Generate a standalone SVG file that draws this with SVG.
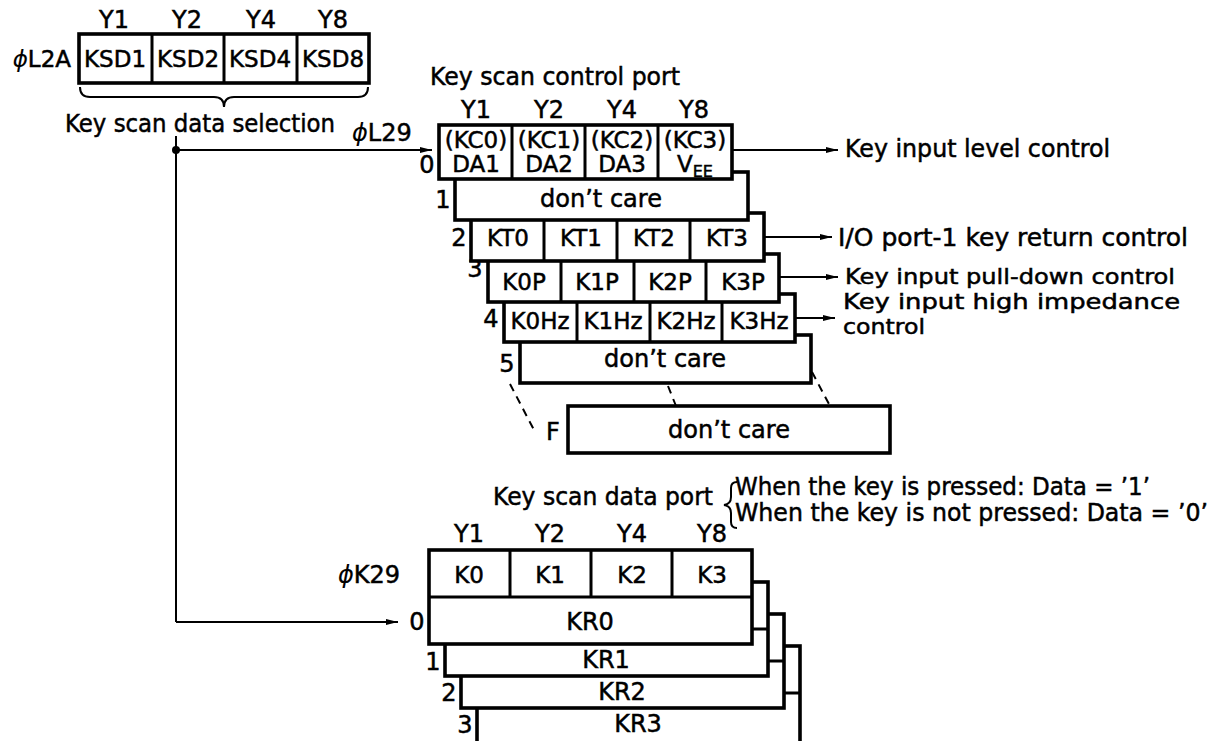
<svg xmlns="http://www.w3.org/2000/svg" width="1216" height="741" viewBox="0 0 1216 741">
<style>
text{font-family:"DejaVu Sans","Liberation Sans",Arial,sans-serif;font-size:23px;fill:#000;stroke:#000;stroke-width:0.5px}
.lb{font-size:24px}
.sm{font-size:21px}
.c{text-anchor:middle}
.e{text-anchor:end}
.phi{font-style:italic;stroke-width:0.1px}
.box{fill:#fff;stroke:#000;stroke-width:3.6}
.div{fill:none;stroke:#000;stroke-width:3}
.ln{fill:none;stroke:#000;stroke-width:2}
.dash{fill:none;stroke:#000;stroke-width:2;stroke-dasharray:8 6}
.sub{font-size:16px}
</style>
<defs>
<marker id="ah" viewBox="0 0 12 8" refX="12" refY="4" markerWidth="12" markerHeight="8" markerUnits="userSpaceOnUse" orient="auto">
<path d="M0,1 L12,4 L0,7 Z" fill="#000"/>
</marker>
</defs>

<g id="ksd-register">
<text class="c lb" x="114" y="28">Y1</text>
<text class="c lb" x="187" y="28">Y2</text>
<text class="c lb" x="261" y="28">Y4</text>
<text class="c lb" x="333" y="28">Y8</text>
<text class="e" x="71" y="67"><tspan class="phi">ϕ</tspan>L2A</text>
<rect class="box" x="79" y="34" width="290" height="49"/>
<path class="div" d="M152,34V83M224,34V83M297,34V83"/>
<text class="c" x="115" y="67">KSD1</text>
<text class="c" x="188" y="67">KSD2</text>
<text class="c" x="260" y="67">KSD4</text>
<text class="c" x="333" y="67">KSD8</text>
<path class="ln" d="M80,87 q0,10 10,10 H214 q10,0 10,10 q0,-10 10,-10 H358 q10,0 10,-10"/>
<text class="lb" x="65" y="132" textLength="270" lengthAdjust="spacingAndGlyphs">Key scan data selection</text>
</g>

<g id="connectors">
<text class="lb" x="352" y="141"><tspan class="phi">ϕ</tspan>L29</text>
<text class="lb" x="338" y="583"><tspan class="phi">ϕ</tspan>K29</text>
<path class="ln" d="M176,136 V622"/>
<circle cx="176" cy="150" r="4" fill="#000"/>
<path class="ln" d="M176,150 H432" marker-end="url(#ah)"/>
<path class="ln" d="M176,622 H398" marker-end="url(#ah)"/>
<path class="ln" d="M732,150 H838" marker-end="url(#ah)"/>
<path class="ln" d="M764,237 H832" marker-end="url(#ah)"/>
<path class="ln" d="M779,277 H838" marker-end="url(#ah)"/>
<path class="ln" d="M795,318 H835" marker-end="url(#ah)"/>
<path class="dash" d="M510,384 L534,430"/>
<path class="dash" d="M668,386 L676,406"/>
<path class="dash" d="M812,372 L830,406"/>
</g>

<g id="control-port">
<text class="lb" x="430" y="85" textLength="250" lengthAdjust="spacingAndGlyphs">Key scan control port</text>
<text class="c lb" x="476" y="118">Y1</text>
<text class="c lb" x="549" y="118">Y2</text>
<text class="c lb" x="622" y="118">Y4</text>
<text class="c lb" x="694" y="118">Y8</text>
</g>

<g id="ctrl-row-F">
<rect class="box" x="568" y="406" width="322" height="47"/>
<text class="c lb" x="729" y="438">don’t care</text>
<text class="c lb" x="553" y="440">F</text>
</g>
<g id="ctrl-row-5">
<rect class="box" x="520" y="335" width="291" height="48"/>
<text class="c lb" x="665" y="367">don’t care</text>
<text class="c lb" x="507" y="372">5</text>
</g>
<g id="ctrl-row-4">
<rect class="box" x="504" y="294" width="291" height="48"/>
<path class="div" d="M577,302V342M650,302V342M722,302V342"/>
<text class="c" x="540" y="329">K0Hz</text>
<text class="c" x="613" y="329">K1Hz</text>
<text class="c" x="686" y="329">K2Hz</text>
<text class="c" x="759" y="329">K3Hz</text>
<text class="c lb" x="491" y="327">4</text>
</g>
<g id="ctrl-row-3">
<rect class="box" x="488" y="254" width="291" height="48"/>
<path class="div" d="M561,261V302M634,261V302M706,261V302"/>
<text class="c" x="524" y="290">K0P</text>
<text class="c" x="597" y="290">K1P</text>
<text class="c" x="670" y="290">K2P</text>
<text class="c" x="743" y="290">K3P</text>
<text class="c lb" x="475" y="277">3</text>
</g>
<g id="ctrl-row-2">
<rect class="box" x="471" y="213" width="293" height="48"/>
<path class="div" d="M544,220V261M617,220V261M690,220V261"/>
<text class="c" x="508" y="246">KT0</text>
<text class="c" x="581" y="246">KT1</text>
<text class="c" x="654" y="246">KT2</text>
<text class="c" x="727" y="246">KT3</text>
<text class="c lb" x="459" y="246">2</text>
</g>
<g id="ctrl-row-1">
<rect class="box" x="455" y="172" width="293" height="48"/>
<text class="c lb" x="601" y="207">don’t care</text>
<text class="c lb" x="443" y="208">1</text>
</g>
<g id="ctrl-row-0">
<rect class="box" x="439" y="125" width="293" height="54"/>
<path class="div" d="M512,125V179M585,125V179M658,125V179"/>
<text class="c" x="476" y="148">(KC0)</text>
<text class="c" x="549" y="148">(KC1)</text>
<text class="c" x="622" y="148">(KC2)</text>
<text class="c" x="695" y="148">(KC3)</text>
<text class="c" x="476" y="172">DA1</text>
<text class="c" x="549" y="172">DA2</text>
<text class="c" x="622" y="172">DA3</text>
<text class="c" x="695" y="172">V<tspan class="sub" dy="5">EE</tspan></text>
<text class="c lb" x="427" y="173">0</text>
</g>

<g id="output-labels">
<text class="lb" x="845" y="157" textLength="265" lengthAdjust="spacingAndGlyphs">Key input level control</text>
<text class="lb" x="838" y="246" textLength="350" lengthAdjust="spacingAndGlyphs">I/O port-1 key return control</text>
<text class="sm" x="845" y="284" textLength="330" lengthAdjust="spacingAndGlyphs">Key input pull-down control</text>
<text class="sm" x="843" y="309" textLength="337" lengthAdjust="spacingAndGlyphs">Key input high impedance</text>
<text class="sm" x="843" y="334" textLength="82" lengthAdjust="spacingAndGlyphs">control</text>
</g>

<g id="data-port">
<text class="lb" x="493" y="505" textLength="220" lengthAdjust="spacingAndGlyphs">Key scan data port</text>
<path class="ln" d="M737,482 q-6,0 -6,6 v9 q0,7 -7,8 q7,1 7,8 v9 q0,6 6,6"/>
<text class="lb" x="735" y="495" textLength="415" lengthAdjust="spacingAndGlyphs">When the key is pressed: Data = ’1’</text>
<text class="lb" x="735" y="521" textLength="473" lengthAdjust="spacingAndGlyphs">When the key is not pressed: Data = ’0’</text>
<text class="c lb" x="469" y="542">Y1</text>
<text class="c lb" x="550" y="542">Y2</text>
<text class="c lb" x="632" y="542">Y4</text>
<text class="c lb" x="712" y="542">Y8</text>
</g>

<g id="data-layer-3">
<rect class="box" x="477" y="646" width="323" height="100"/>
<path class="div" d="M477,693H800"/>
<text class="c lb" x="638" y="732">KR3</text>
<text class="c lb" x="465" y="733">3</text>
</g>
<g id="data-layer-2">
<rect class="box" x="461" y="614" width="323" height="94"/>
<path class="div" d="M461,661H784"/>
<text class="c lb" x="622" y="700">KR2</text>
<text class="c lb" x="449" y="701">2</text>
</g>
<g id="data-layer-1">
<rect class="box" x="445" y="582" width="323" height="94"/>
<path class="div" d="M445,629H768"/>
<text class="c lb" x="606" y="668">KR1</text>
<text class="c lb" x="433" y="670">1</text>
</g>
<g id="data-layer-0">
<rect class="box" x="429" y="550" width="323" height="94"/>
<path class="div" d="M429,597H752M510,550V597M591,550V597M672,550V597"/>
<text class="c" x="469" y="583">K0</text>
<text class="c" x="550" y="583">K1</text>
<text class="c" x="632" y="583">K2</text>
<text class="c" x="712" y="583">K3</text>
<text class="c lb" x="590" y="630">KR0</text>
<text class="c lb" x="417" y="630">0</text>
</g>
</svg>
